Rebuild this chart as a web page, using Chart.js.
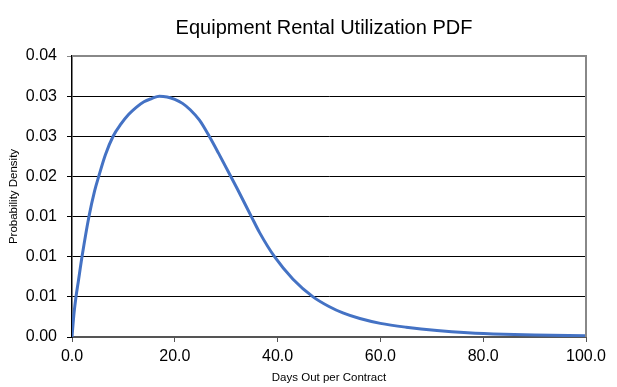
<!DOCTYPE html>
<html>
<head>
<meta charset="utf-8">
<title>Equipment Rental Utilization PDF</title>
<script src="https://cdn.jsdelivr.net/npm/chart.js@4/dist/chart.umd.min.js"></script>
<style>
  html, body { margin: 0; padding: 0; background: #fff; }
  #wrap { width: 617px; height: 387px; position: relative; }
</style>
</head>
<body>
<div id="wrap"><canvas id="pdf-chart"></canvas></div>
<script>
'use strict';

/* ── データ ──────────────────────────── */
const DAYS = [0, 0.4, 0.8, 1.2, 2, 3.3, 4.4, 5.2, 6.5, 8, 9.5, 11, 12.5, 14, 15.5, 17, 18.5,
              20, 21.5, 23, 24.8, 26.7, 28.5, 30.9, 32.2, 34.9, 36.5, 39.4, 43, 46.9, 50, 52.7, 56,
              60, 65, 71, 77, 84, 90, 100];
const DENSITY = [0, 0.0030, 0.0051, 0.0068, 0.0102, 0.0150, 0.0182, 0.0200, 0.0227, 0.0250, 0.0265,
                 0.0277, 0.0286, 0.0293, 0.0297, 0.0300, 0.0299, 0.0296, 0.0291, 0.0283, 0.0270, 0.0250,
                 0.0229, 0.0200, 0.0184, 0.0150, 0.0130, 0.0100, 0.0072, 0.0050, 0.0038, 0.0030, 0.0023,
                 0.0017, 0.00122, 0.0008, 0.00052, 0.00033, 0.00024, 0.00015];
const X_MIN = 0, X_MAX = 100, X_STEP = 20;
const Y_MIN = 0, Y_MAX = 0.035, Y_STEP = 0.005;
const TITLE = 'Equipment Rental Utilization PDF';

const FONT = '"Liberation Sans", Arial, sans-serif';
const LINE_COLOR = '#4472C4';

// タイトル描画 + 上と右の枠線（グレー）
const frameAndTitle = {
  id: 'frameAndTitle',
  afterDraw(chart) {
    const { ctx, chartArea: a } = chart;
    ctx.save();
    ctx.strokeStyle = '#888888';
    ctx.lineWidth = 2;
    ctx.beginPath();
    ctx.moveTo(a.left, a.top);
    ctx.lineTo(a.right, a.top);
    ctx.lineTo(a.right, a.bottom);
    ctx.stroke();

    ctx.fillStyle = '#000';
    ctx.font = `20px ${FONT}`;
    ctx.textAlign = 'center';
    ctx.textBaseline = 'middle';
    ctx.fillText(TITLE, 324, 28);
    ctx.restore();
  }
};

const points = DAYS.map((d, i) => ({ x: d, y: DENSITY[i] }));

new Chart(document.getElementById('pdf-chart'), {
  type: 'line',
  data: {
    datasets: [{
      label: 'PDF',
      data: points,
      borderColor: LINE_COLOR,
      borderWidth: 3,
      pointRadius: 0,
      fill: false,
      cubicInterpolationMode: 'monotone',
    }],
  },
  options: {
    responsive: true,
    maintainAspectRatio: false,
    animation: false,
    layout: { padding: { left: 4, right: 31, top: 56, bottom: 0 } },
    plugins: {
      legend: { display: false },
      tooltip: { enabled: false },
      title: { display: false },
    },
    scales: {
      x: {
        type: 'linear',
        min: X_MIN, max: X_MAX,
        afterFit: s => { s.height = 50; },
        ticks: {
          stepSize: X_STEP,
          color: '#000',
          padding: 5,
          maxRotation: 0,
          font: { family: FONT, size: 16 },
          callback: v => Number(v).toFixed(1),
        },
        grid: { display: true, drawOnChartArea: false, drawTicks: true, tickLength: 5, color: '#555' },
        border: { color: '#555', width: 2 },
        title: {
          display: true,
          text: 'Days Out per Contract',
          color: '#000',
          font: { family: FONT, size: 11.5 },
          padding: { top: 4, bottom: 2 },
        },
      },
      y: {
        min: Y_MIN, max: Y_MAX,
        afterFit: s => { s.width = 68; },
        ticks: {
          stepSize: Y_STEP,
          color: '#000',
          padding: 10,
          font: { family: FONT, size: 16 },
          callback: v => Number(v).toFixed(2),
        },
        grid: {
          color: c => (c.tick && Math.abs(c.tick.value - Y_MAX) < 1e-9) ? '#888888' : '#000000',
          lineWidth: 1,
          tickLength: 5,
        },
        border: { color: '#000', width: 1.5 },
        title: {
          display: true,
          text: 'Probability Density',
          color: '#000',
          font: { family: FONT, size: 11.5 },
          padding: { top: 3, bottom: 4 },
        },
      },
    },
  },
  plugins: [frameAndTitle],
});
</script>
</body>
</html>
